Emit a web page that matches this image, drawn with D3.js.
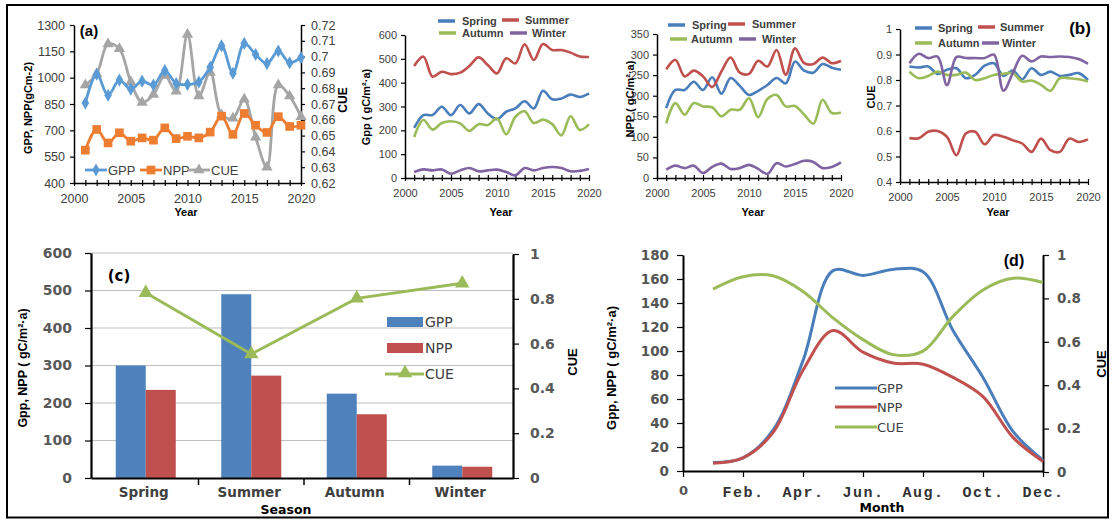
<!DOCTYPE html>
<html>
<head>
<meta charset="utf-8">
<script src="https://cdn.jsdelivr.net/npm/d3@7"></script>
<style>
  body { margin: 0; background: #fff; }
</style>
</head>
<body>
<svg id="fig" width="1113" height="520" font-family="Liberation Sans, Arial, sans-serif"></svg>
<script>

// ---- data ----
var years = d3.range(2001, 2021);

// (a) annual totals
var gppYear = [855, 1020, 900, 986, 935, 980, 958, 1040, 967, 961, 975, 1060, 1182, 1025, 1195, 1132, 1080, 1152, 1085, 1115];
var nppYear = [587, 705, 628, 686, 638, 657, 644, 714, 653, 666, 657, 690, 781, 677, 796, 729, 688, 778, 722, 729];
var cueYear = [0.682, 0.689, 0.708, 0.705, 0.684, 0.671, 0.676, 0.688, 0.678, 0.714, 0.675, 0.690, 0.663, 0.661, 0.673, 0.649, 0.630, 0.682, 0.675, 0.662];

// (b) seasonal series
var seasons = ["Spring", "Summer", "Autumn", "Winter"];
var gppSpring = [210, 264, 264, 299, 264, 306, 271, 310, 271, 247, 278, 292, 322, 292, 366, 330, 334, 350, 340, 355];
var gppSummer = [470, 509, 425, 446, 436, 442, 470, 506, 474, 439, 502, 481, 561, 495, 562, 537, 537, 526, 510, 508];
var gppAutumn = [172, 243, 203, 231, 238, 229, 198, 226, 222, 250, 183, 257, 280, 231, 245, 226, 179, 259, 202, 225];
var gppWinter = [25, 36, 32, 36, 18, 32, 42, 28, 32, 35, 25, 11, 42, 32, 42, 46, 42, 28, 30, 38];

var nppSpring = [170, 214, 214, 234, 214, 245, 205, 243, 224, 202, 212, 226, 243, 230, 283, 261, 256, 277, 268, 263];
var nppSummer = [264, 287, 247, 261, 247, 221, 259, 293, 256, 253, 285, 271, 311, 251, 315, 279, 277, 293, 279, 285];
var nppAutumn = [133, 182, 154, 182, 174, 172, 150, 166, 166, 194, 148, 192, 202, 174, 175, 154, 132, 190, 158, 159];
var nppWinter = [20, 30, 24, 30, 12, 27, 35, 22, 24, 32, 22, 10, 36, 28, 34, 42, 39, 24, 27, 38];

var cueSpring = [0.853, 0.849, 0.853, 0.824, 0.840, 0.846, 0.807, 0.820, 0.856, 0.866, 0.816, 0.837, 0.803, 0.846, 0.820, 0.833, 0.816, 0.820, 0.827, 0.800];
var cueSummer = [0.572, 0.572, 0.597, 0.600, 0.577, 0.505, 0.590, 0.597, 0.548, 0.584, 0.577, 0.564, 0.551, 0.518, 0.570, 0.525, 0.518, 0.570, 0.557, 0.567];
var cueAutumn = [0.833, 0.807, 0.816, 0.833, 0.820, 0.820, 0.829, 0.800, 0.807, 0.820, 0.824, 0.827, 0.794, 0.798, 0.781, 0.758, 0.807, 0.807, 0.803, 0.794];
var cueWinter = [0.866, 0.903, 0.886, 0.892, 0.780, 0.890, 0.886, 0.886, 0.886, 0.899, 0.758, 0.827, 0.895, 0.873, 0.892, 0.890, 0.892, 0.890, 0.882, 0.863];

// (c) seasonal means
var gppSeason = [300, 490, 225, 33];
var nppSeason = [235, 273, 170, 30];
var cueSeason = [0.827, 0.553, 0.802, 0.869];

// (d) monthly means
var months = d3.range(1, 13);
var monthTicks = [0, 2, 4, 6, 8, 10, 12];
var monthLabels = ["0", "Feb.", "Apr.", "Jun.", "Aug.", "Oct.", "Dec."];
var gppMonth = [7, 11, 34, 92, 167, 163, 168, 166, 117, 78, 33, 9];
var nppMonth = [6.5, 11, 32, 84, 117, 99, 90, 89, 78, 62, 28, 8];
var cueMonth = [0.843, 0.900, 0.904, 0.832, 0.710, 0.610, 0.541, 0.557, 0.717, 0.839, 0.893, 0.873];

var seasonColors = {Spring: "#4a7ebb", Summer: "#c0504d", Autumn: "#9bbb59", Winter: "#8064a2"};

var svg = d3.select("#fig");
var smooth = d3.curveCatmullRom.alpha(0.5);

function styleAxis(a, font, size, color, weight) {
    a.attr("font-family", font).attr("font-size", size);
    a.select(".domain").attr("stroke", "#000").attr("stroke-width", 1.5);
    a.selectAll(".tick line").attr("stroke", "#000").attr("stroke-width", 1.2);
    a.selectAll(".tick text").attr("fill", color).attr("font-weight", weight || "normal");
}

function yearAxis(g, x, y0, font, size) {
    var ax = d3.axisBottom(x)
               .tickValues(d3.range(2000, 2021))
               .tickSize(3).tickPadding(8).tickSizeOuter(0)
               .tickFormat(function(d) { return d % 5 == 0 ? d : ""; });
    var a = g.append("g")
             .attr("transform", "translate(0," + y0 + ")")
             .call(ax);
    a.selectAll(".tick line").attr("y1", -3);
    styleAxis(a, font, size, "#404040");
    return a;
}

function drawLine(g, xs, ys, x, y, color, width) {
    var line = d3.line()
                 .x(function(d, i) { return x(xs[i]); })
                 .y(function(d) { return y(d); })
                 .curve(smooth);
    g.append("path")
        .datum(ys)
        .attr("d", line)
        .attr("fill", "none")
        .attr("stroke", color)
        .attr("stroke-width", width)
        .attr("stroke-linejoin", "round");
}

function drawMarkers(g, xs, ys, x, y, type, size, color) {
    g.selectAll(null)
        .data(ys).enter()
        .append("path")
            .attr("d", d3.symbol().type(type).size(size))
            .attr("transform", function(d, i) { return "translate(" + x(xs[i]) + "," + y(d) + ")"; })
            .attr("fill", color);
}

function rotLabel(g, text, x, y, size, font) {
    g.append("text")
        .attr("transform", "translate(" + x + "," + y + ") rotate(-90)")
        .attr("text-anchor", "middle")
        .attr("font-family", font || "Liberation Sans")
        .attr("font-size", size)
        .attr("font-weight", "bold")
        .attr("fill", "#000")
        .text(text);
}

function plainLabel(g, text, x, y, size, font, anchor) {
    return g.append("text")
        .attr("x", x).attr("y", y)
        .attr("text-anchor", anchor || "middle")
        .attr("font-family", font || "Liberation Sans")
        .attr("font-size", size)
        .attr("font-weight", "bold")
        .attr("fill", "#000")
        .text(text);
}

// ---------- (a) annual GPP / NPP / CUE ----------
function plot_annual() {
    var g = svg.append("g");
    var x = d3.scaleLinear().domain([2000, 2020]).range([74, 301]);
    var y = d3.scaleLinear().domain([400, 1300]).range([183, 25]);
    var y2 = d3.scaleLinear().domain([0.62, 0.72]).range([183, 25]);

    var la = g.append("g").attr("transform", "translate(74,0)")
              .call(d3.axisLeft(y).tickValues(d3.range(400, 1301, 150)).tickFormat(d3.format("d"))
                     .tickSize(4).tickPadding(5).tickSizeOuter(0));
    styleAxis(la, "Liberation Sans", 12.5, "#404040");
    var ra = g.append("g").attr("transform", "translate(301,0)")
              .call(d3.axisRight(y2).tickValues(d3.range(0, 11).map(function(i) { return +(0.62 + i * 0.01).toFixed(2); }))
                     .tickFormat(function(d) { return d; })
                     .tickSize(4).tickPadding(6).tickSizeOuter(0));
    styleAxis(ra, "Liberation Sans", 12.5, "#404040");
    yearAxis(g, x, 183, "Liberation Sans", 12.5);

    drawLine(g, years, cueYear, x, y2, "#a5a5a5", 2.8);
    drawMarkers(g, years, cueYear, x, y2, d3.symbolTriangle, 55, "#a5a5a5");
    drawLine(g, years, gppYear, x, y, "#5b9bd5", 2.8);
    drawMarkers(g, years, gppYear, x, y, d3.symbolDiamond, 50, "#5b9bd5");
    drawLine(g, years, nppYear, x, y, "#ed7d31", 2.8);
    drawMarkers(g, years, nppYear, x, y, d3.symbolSquare, 75, "#ed7d31");

    // legend
    var leg = [
        {name: "GPP", color: "#5b9bd5", sym: d3.symbolDiamond, sz: 50, x0: 85},
        {name: "NPP", color: "#ed7d31", sym: d3.symbolSquare, sz: 75, x0: 140},
        {name: "CUE", color: "#a5a5a5", sym: d3.symbolTriangle, sz: 55, x0: 188}
    ];
    var lg = g.selectAll(".lega").data(leg).enter().append("g")
              .attr("transform", function(d) { return "translate(" + d.x0 + ",170)"; });
    lg.append("line").attr("x1", 0).attr("x2", 22).attr("stroke", function(d) { return d.color; }).attr("stroke-width", 2.8);
    lg.append("path").attr("d", function(d) { return d3.symbol().type(d.sym).size(d.sz)(); })
      .attr("transform", "translate(11,0)").attr("fill", function(d) { return d.color; });
    lg.append("text").attr("x", 23).attr("y", 4.5)
      .attr("font-size", 13).attr("fill", "#404040")
      .text(function(d) { return d.name; });

    plainLabel(g, "(a)", 89, 36, 15);
    rotLabel(g, "GPP, NPP(gCm-2)", 32, 108, 11);
    rotLabel(g, "CUE", 347, 100, 12);
    plainLabel(g, "Year", 186, 216, 11);
}

// ---------- (b) seasonal panels ----------
function plot_season(opt) {
    var g = svg.append("g");
    var x = d3.scaleLinear().domain([2000, 2020]).range([opt.x0, opt.x1]);
    var y = d3.scaleLinear().domain(opt.domain).range([opt.yb, opt.yt]);

    var la = g.append("g").attr("transform", "translate(" + opt.x0 + ",0)")
              .call(d3.axisLeft(y).tickValues(opt.ticks).tickFormat(opt.fmt || null)
                     .tickSize(4).tickPadding(4).tickSizeOuter(0));
    styleAxis(la, "Liberation Sans", 11, "#404040");
    yearAxis(g, x, opt.yb, "Liberation Sans", 11);

    seasons.forEach(function(s, i) {
        drawLine(g, years, opt.series[i], x, y, seasonColors[s], 2.6);
    });

    // legend (two rows)
    var lg = g.selectAll(".legb").data(opt.legend).enter().append("g")
              .attr("transform", function(d) { return "translate(" + d.lx + "," + d.ly + ")"; });
    lg.append("line").attr("x1", 0).attr("x2", 17)
      .attr("stroke", function(d) { return seasonColors[d.name]; }).attr("stroke-width", 3.5);
    lg.append("text").attr("x", function(d) { return d.tx; }).attr("y", 4)
      .attr("font-size", 11).attr("font-weight", "bold")
      .attr("fill", "#404040")
      .text(function(d) { return d.name; });

    rotLabel(g, opt.ylabel, opt.labx, opt.laby, 11);
    plainLabel(g, "Year", (opt.x0 + opt.x1) / 2 + 4, 216, 11);
}

// ---------- (c) seasonal means ----------
function plot_bars() {
    var g = svg.append("g");
    var x = d3.scaleBand().domain(seasons).range([91, 513]);
    var y = d3.scaleLinear().domain([0, 600]).range([478, 253]);
    var y2 = d3.scaleLinear().domain([0, 1]).range([478, 254]);
    var bw = 30;

    g.selectAll(".grid").data(d3.range(100, 601, 100)).enter()
        .append("line")
            .attr("x1", 91).attr("x2", 513)
            .attr("y1", function(d) { return y(d); }).attr("y2", function(d) { return y(d); })
            .attr("stroke", "#c0c0c0").attr("stroke-width", 1.2);

    g.selectAll(".gppbar").data(gppSeason).enter()
        .append("rect")
            .attr("x", function(d, i) { return x(seasons[i]) + x.bandwidth() / 2 - bw + 2; })
            .attr("y", function(d) { return y(d); })
            .attr("width", bw)
            .attr("height", function(d) { return y(0) - y(d); })
            .attr("fill", "#4f81bd");
    g.selectAll(".nppbar").data(nppSeason).enter()
        .append("rect")
            .attr("x", function(d, i) { return x(seasons[i]) + x.bandwidth() / 2 + 2; })
            .attr("y", function(d) { return y(d); })
            .attr("width", bw)
            .attr("height", function(d) { return y(0) - y(d); })
            .attr("fill", "#c0504d");

    var la = g.append("g").attr("transform", "translate(91,0)")
              .call(d3.axisLeft(y).tickValues(d3.range(0, 601, 100)).tickSize(6).tickPadding(13).tickSizeOuter(0));
    styleAxis(la, "DejaVu Sans", 14, "#595959", "bold");
    la.select(".domain").attr("stroke-width", 2.2);
    var ra = g.append("g").attr("transform", "translate(513,0)")
              .call(d3.axisRight(y2).tickValues([0, 0.2, 0.4, 0.6, 0.8, 1]).tickFormat(function(d) { return d; })
                     .tickSize(6).tickPadding(11).tickSizeOuter(0));
    styleAxis(ra, "DejaVu Sans", 14, "#595959", "bold");
    ra.select(".domain").attr("stroke-width", 2.2);
    var ba = g.append("g").attr("transform", "translate(0,478)")
              .call(d3.axisBottom(x).tickSize(0).tickPadding(9));
    styleAxis(ba, "DejaVu Sans", 13.5, "#404040", "bold");
    ba.select(".domain").attr("stroke-width", 2.2);
    // category separators
    g.selectAll(".sep").data(seasons.slice(1)).enter()
        .append("line")
            .attr("x1", function(d) { return x(d) + 2; }).attr("x2", function(d) { return x(d) + 2; })
            .attr("y1", 478).attr("y2", 485)
            .attr("stroke", "#000").attr("stroke-width", 1.5);

    var cx = seasons.map(function(s) { return x(s) + x.bandwidth() / 2 + 2; });
    var line = d3.line().x(function(d, i) { return cx[i]; }).y(function(d) { return y2(d); });
    g.append("path").datum(cueSeason).attr("d", line)
        .attr("fill", "none").attr("stroke", "#9bbb59").attr("stroke-width", 3);
    g.selectAll(".cuemk").data(cueSeason).enter()
        .append("path")
            .attr("d", d3.symbol().type(d3.symbolTriangle).size(90))
            .attr("transform", function(d, i) { return "translate(" + cx[i] + "," + y2(d) + ")"; })
            .attr("fill", "#9bbb59");

    // legend
    g.append("rect").attr("x", 387).attr("y", 317).attr("width", 36).attr("height", 10).attr("fill", "#4f81bd");
    g.append("rect").attr("x", 387).attr("y", 343).attr("width", 36).attr("height", 10).attr("fill", "#c0504d");
    g.append("line").attr("x1", 385).attr("x2", 424).attr("y1", 374).attr("y2", 374)
        .attr("stroke", "#9bbb59").attr("stroke-width", 3);
    g.append("path").attr("d", d3.symbol().type(d3.symbolTriangle).size(90))
        .attr("transform", "translate(405,373)").attr("fill", "#9bbb59");
    ["GPP", "NPP", "CUE"].forEach(function(t, i) {
        g.append("text").attr("x", 425).attr("y", [327, 353, 379][i])
            .attr("font-family", "DejaVu Sans").attr("font-size", 14)
            .attr("fill", "#404040").text(t);
    });

    plainLabel(g, "(c)", 119, 281, 15, "DejaVu Sans");
    rotLabel(g, "Gpp, NPP ( gC/m²·a)", 27, 368, 12.5);
    rotLabel(g, "CUE", 577, 362, 13);
    plainLabel(g, "Season", 286, 513.5, 12.5, "DejaVu Sans");
}

// ---------- (d) monthly means ----------
function plot_months() {
    var g = svg.append("g");
    var x = d3.scaleLinear().domain([0, 12]).range([683, 1043]);
    var y = d3.scaleLinear().domain([0, 180]).range([471, 255]);
    var y2 = d3.scaleLinear().domain([0, 1]).range([472, 255]);

    var la = g.append("g").attr("transform", "translate(683,0)")
              .call(d3.axisLeft(y).tickValues(d3.range(0, 181, 20)).tickSize(6).tickPadding(8).tickSizeOuter(0));
    styleAxis(la, "DejaVu Sans", 13.5, "#555", "bold");
    la.select(".domain").attr("stroke-width", 2);
    var ra = g.append("g").attr("transform", "translate(1043,0)")
              .call(d3.axisRight(y2).tickValues([0, 0.2, 0.4, 0.6, 0.8, 1]).tickFormat(function(d) { return d; })
                     .tickSize(6).tickPadding(8).tickSizeOuter(0));
    styleAxis(ra, "DejaVu Sans", 13.5, "#555", "bold");
    ra.select(".domain").attr("stroke-width", 2);
    var ba = g.append("g").attr("transform", "translate(0,471)")
              .call(d3.axisBottom(x).tickValues(monthTicks).tickSize(6).tickPadding(9).tickSizeOuter(0)
                     .tickFormat(function(d, i) { return monthLabels[i]; }));
    styleAxis(ba, "Liberation Mono", 15, "#333", "bold");
    ba.select(".domain").attr("stroke-width", 2);
    ba.selectAll(".tick text").attr("letter-spacing", "1.5px");
    ba.selectAll(".tick text").filter(function(d) { return d == 0; })
      .attr("font-family", "DejaVu Sans").attr("font-size", 13).attr("fill", "#555").attr("letter-spacing", null);

    drawLine(g, months, gppMonth, x, y, "#4a7ebb", 3);
    drawLine(g, months, nppMonth, x, y, "#c0504d", 3);
    drawLine(g, months, cueMonth, x, y2, "#9bbb59", 3);

    var leg = [{t: "GPP", c: "#4a7ebb", y: 388}, {t: "NPP", c: "#c0504d", y: 407}, {t: "CUE", c: "#9bbb59", y: 427}];
    leg.forEach(function(d) {
        g.append("line").attr("x1", 835).attr("x2", 877).attr("y1", d.y).attr("y2", d.y)
            .attr("stroke", d.c).attr("stroke-width", 3);
        g.append("text").attr("x", 877).attr("y", d.y + 5)
            .attr("font-family", "DejaVu Sans").attr("font-size", 13)
            .attr("fill", "#404040").text(d.t);
    });

    plainLabel(g, "(d)", 1014, 266, 16);
    rotLabel(g, "Gpp, NPP ( gC/m²·a)", 616, 368, 13);
    rotLabel(g, "CUE", 1106, 364, 13);
    plainLabel(g, "Month", 882, 512, 12.5, "DejaVu Sans");
}

plot_annual();

plot_season({
    x0: 405, x1: 589, yb: 178, yt: 35, domain: [0, 600], ticks: d3.range(0, 601, 100),
    series: [gppSpring, gppSummer, gppAutumn, gppWinter],
    ylabel: "Gpp ( gC/m²·a)", labx: 370, laby: 107,
    legend: [
        {name: "Spring", lx: 438, ly: 21, tx: 24},
        {name: "Summer", lx: 502, ly: 20, tx: 23},
        {name: "Autumn", lx: 439, ly: 33, tx: 23},
        {name: "Winter", lx: 510, ly: 33, tx: 22}
    ]
});

plot_season({
    x0: 657, x1: 841, yb: 178, yt: 34, domain: [0, 350], ticks: d3.range(0, 351, 50),
    series: [nppSpring, nppSummer, nppAutumn, nppWinter],
    ylabel: "NPP ( gC/m²·a)", labx: 634, laby: 99,
    legend: [
        {name: "Spring", lx: 668, ly: 25, tx: 24},
        {name: "Summer", lx: 728, ly: 24, tx: 24},
        {name: "Autumn", lx: 670, ly: 39, tx: 21},
        {name: "Winter", lx: 739, ly: 39, tx: 23}
    ]
});

plot_season({
    x0: 900, x1: 1088, yb: 182, yt: 29, domain: [0.4, 1], ticks: [0.4, 0.5, 0.6, 0.7, 0.8, 0.9, 1],
    fmt: function(d) { return d; },
    series: [cueSpring, cueSummer, cueAutumn, cueWinter],
    ylabel: "CUE", labx: 875, laby: 97,
    legend: [
        {name: "Spring", lx: 915, ly: 28, tx: 23},
        {name: "Summer", lx: 978, ly: 27, tx: 22},
        {name: "Autumn", lx: 915, ly: 43, tx: 23},
        {name: "Winter", lx: 982, ly: 43, tx: 20}
    ]
});
plainLabel(svg, "(b)", 1080, 34, 17);

plot_bars();
plot_months();

// outer frame
svg.append("rect")
    .attr("x", 7).attr("y", 5).attr("width", 1101).attr("height", 512.5)
    .attr("fill", "none").attr("stroke", "#000").attr("stroke-width", 2);

</script>
</body>
</html>
